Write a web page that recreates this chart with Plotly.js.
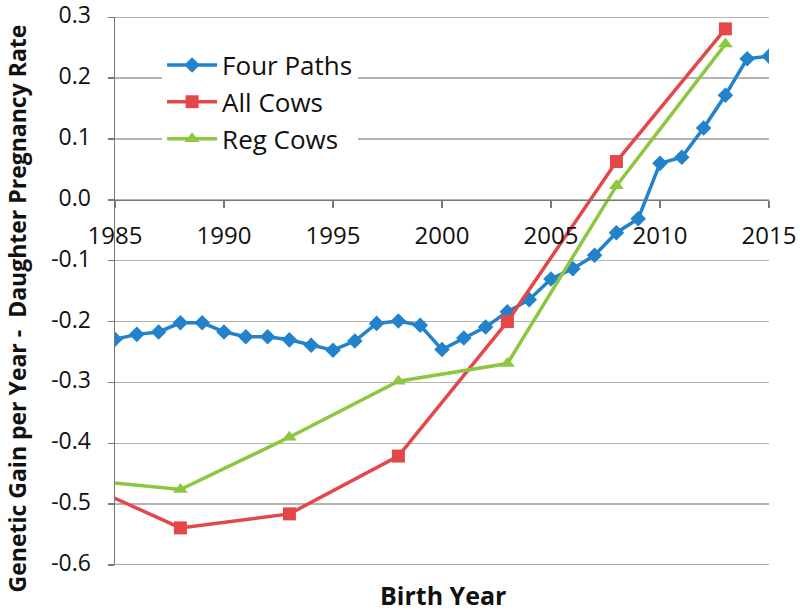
<!DOCTYPE html>
<html>
<head>
<meta charset="utf-8">
<script src="https://cdn.plot.ly/plotly-3.0.1.min.js"></script>
<style>html,body{margin:0;padding:0;background:#fff;}#chart{width:800px;height:611px;}</style>
</head>
<body>
<div id="chart"></div>
<script>
// Four Paths: yearly values
const fourPathsYears = [1985,1986,1987,1988,1989,1990,1991,1992,1993,1994,1995,1996,1997,1998,1999,2000,2001,2002,2003,2004,2005,2006,2007,2008,2009,2010,2011,2012,2013,2014,2015];
const fourPathsValues = [-0.229,-0.221,-0.217,-0.202,-0.202,-0.217,-0.225,-0.225,-0.230,-0.239,-0.247,-0.232,-0.203,-0.199,-0.206,-0.246,-0.227,-0.209,-0.184,-0.164,-0.130,-0.113,-0.091,-0.054,-0.031,0.060,0.070,0.118,0.172,0.232,0.236];
// All Cows and Reg Cows: every five years (first point lies left of the axis start)
const cowYears = [1983,1988,1993,1998,2003,2008,2013];
const allCowsValues = [-0.458,-0.539,-0.516,-0.421,-0.200,0.063,0.281];
const regCowsValues = [-0.458,-0.476,-0.390,-0.298,-0.269,0.023,0.256];

const seriesNames = ['Four Paths','All Cows','Reg Cows'];
const yTickVals = [-0.6,-0.5,-0.4,-0.3,-0.2,-0.1,0,0.1,0.2,0.3];
const yTickLabels = ['-0.6','-0.5','-0.4','-0.3','-0.2','-0.1','0.0','0.1','0.2','0.3'];
const xTickVals = [1985,1990,1995,2000,2005,2010,2015];
const xTickLabels = ['1985','1990','1995','2000','2005','2010','2015'];
const xTitle = 'Birth Year';
const yTitle = 'Genetic Gain per Year -  Daughter Pregnancy Rate';

const FONT = 'Open Sans, Lato, sans-serif';
const traces = [
  {x: fourPathsYears, y: fourPathsValues, name: seriesNames[0], type: 'scatter', mode: 'lines+markers',
   line: {color: '#2282cc', width: 3.5}, marker: {symbol: 'diamond', size: 12, color: '#2282cc'}, legendgroup: 'a'},
  {x: cowYears, y: allCowsValues, name: seriesNames[1], type: 'scatter', mode: 'lines+markers',
   line: {color: '#e4474a', width: 3.5}, marker: {symbol: 'square', size: 13, color: '#e4474a'}, legendgroup: 'b'},
  {x: cowYears, y: regCowsValues, name: seriesNames[2], type: 'scatter', mode: 'lines+markers',
   line: {color: '#8dc63f', width: 3.5}, marker: {symbol: 'triangle-up', size: 13, color: '#8dc63f'}, legendgroup: 'c'}
];

const layout = {
  width: 800, height: 611,
  margin: {l: 115, r: 31, t: 17, b: 46},
  paper_bgcolor: '#fff', plot_bgcolor: '#fff',
  font: {family: FONT, size: 23, color: '#111'},
  showlegend: true,
  legend: {x: 0.072, y: 0.955, xanchor: 'left', yanchor: 'top', bgcolor: '#fff', itemwidth: 50,
           font: {family: FONT, size: 26, color: '#111'}, traceorder: 'grouped', tracegroupgap: 0},
  xaxis: {
    range: [1985, 2015], tickmode: 'array', tickvals: xTickVals, ticktext: xTickLabels,
    anchor: 'free', position: 0.6663,
    showline: true, linecolor: '#777', linewidth: 1.5,
    ticks: 'outside', ticklen: 7, tickcolor: '#777', tickwidth: 1.5,
    ticklabelstandoff: 7, ticklabeloverflow: 'allow',
    showgrid: false, zeroline: false,
    tickfont: {family: FONT, size: 24, color: '#111'}
  },
  yaxis: {
    range: [-0.6, 0.3005], tickmode: 'array', tickvals: yTickVals, ticktext: yTickLabels,
    showline: true, linecolor: '#777', linewidth: 1.5,
    ticks: 'outside', ticklen: 6, tickcolor: '#777', tickwidth: 1.5,
    ticklabelstandoff: 12, ticklabelshift: -2, ticklabeloverflow: 'allow',
    showgrid: true, gridcolor: '#b4b4b4', gridwidth: 1.5,
    zeroline: false,
    tickfont: {family: FONT, size: 23, color: '#111'}
  },
  shapes: [
    {type: 'line', xref: 'paper', yref: 'y', x0: 0, x1: 1, y0: -0.6, y1: -0.6, line: {color: '#888', width: 1.5}, layer: 'below'},
    {type: 'line', xref: 'paper', yref: 'y', x0: 0, x1: 1, y0: 0.3, y1: 0.3, line: {color: '#b4b4b4', width: 1.5}, layer: 'below'}
  ],
  annotations: [
    {text: '<b>' + xTitle + '</b>', xref: 'paper', yref: 'paper', x: 0.501, y: -0.055, yanchor: 'middle', xanchor: 'center',
     showarrow: false, font: {family: FONT, size: 25, color: '#111'}},
    {text: '<b>' + yTitle + '</b>', xref: 'paper', yref: 'paper', x: -0.150, y: 0.468, xanchor: 'center', yanchor: 'middle',
     textangle: -90, showarrow: false, font: {family: FONT, size: 23, color: '#111'}}
  ]
};

Plotly.newPlot('chart', traces, layout, {displayModeBar: false, staticPlot: true});
</script>
</body>
</html>
